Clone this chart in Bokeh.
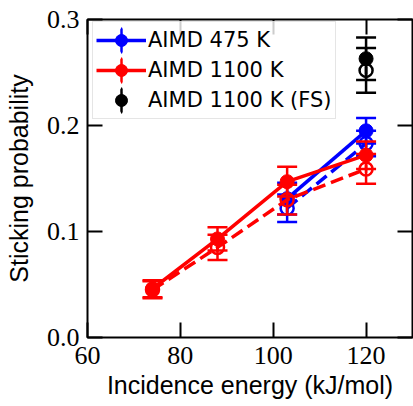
from bokeh.plotting import figure
from bokeh.models import ColumnDataSource, LinearAxis, FixedTicker, Legend, LegendItem
from bokeh.embed import file_html
from bokeh.resources import INLINE

# ---- data ----
x_ticks = [60, 80, 100, 120]
x_tick_labels = ["60", "80", "100", "120"]
y_ticks = [0.0, 0.1, 0.2, 0.3]
y_tick_labels = ["0.0", "0.1", "0.2", "0.3"]

blue_energy = [103, 120]
blue_solid = [0.131, 0.195]
blue_solid_err = [0.015, 0.012]
blue_dashed = [0.122, 0.183]
blue_dashed_err = [0.013, 0.012]

red_energy = [74, 88, 103, 120]
red_solid = [0.046, 0.093, 0.147, 0.172]
red_solid_err = [0.008, 0.011, 0.014, 0.013]
red_dashed = [0.045, 0.085, 0.130, 0.159]
red_dashed_err = [0.008, 0.012, 0.014, 0.014]

black_energy = [120]
black_filled = [0.263]
black_filled_err = [0.020]
black_open = [0.252]
black_open_err = [0.021]

legend_labels = ["AIMD 475 K", "AIMD 1100 K", "AIMD 1100 K (FS)"]

BLUE = "#0000ff"
RED = "#ff0000"
BLACK = "#000000"

p = figure(width=413, height=406, x_range=(60, 130), y_range=(0, 0.3),
           output_backend="svg", toolbar_location=None,
           min_border_left=87, min_border_right=1, min_border_top=19, min_border_bottom=69)
p.grid.visible = False
p.outline_line_color = "black"
p.outline_line_width = 2
p.background_fill_color = "white"
p.border_fill_color = "white"


def series(x, y, err, color, dashed, filled, draw_line=True):
    src = ColumnDataSource(dict(
        x=x, y=y,
        lo=[a - e for a, e in zip(y, err)],
        hi=[a + e for a, e in zip(y, err)],
    ))
    rends = {}
    if draw_line:
        rends["line"] = p.line("x", "y", source=src, line_color=color, line_width=3.5,
                               line_dash="13 6" if dashed else "solid")
    p.segment(x0="x", y0="lo", x1="x", y1="hi", source=src, line_color=color, line_width=2.5)
    p.scatter("x", "lo", source=src, marker="dash", size=20, line_color=color, line_width=2.5)
    p.scatter("x", "hi", source=src, marker="dash", size=20, line_color=color, line_width=2.5)
    # thin upright ellipse hidden under the marker; it gives the legend its error bar
    rends["bar"] = p.ellipse("x", "y", source=src, width=0.02, height=8,
                             width_units="screen", height_units="screen",
                             fill_color=None, line_color=color, line_width=2.5)
    if filled:
        rends["circle"] = p.scatter("x", "y", source=src, marker="circle", size=14,
                                    fill_color=color, line_color=color, line_width=1)
    else:
        rends["circle"] = p.scatter("x", "y", source=src, marker="circle", size=13,
                                    fill_color=None, line_color=color, line_width=2.5)
    return rends


b1 = series(blue_energy, blue_solid, blue_solid_err, BLUE, False, True)
b2 = series(blue_energy, blue_dashed, blue_dashed_err, BLUE, True, False)
r1 = series(red_energy, red_solid, red_solid_err, RED, False, True)
r2 = series(red_energy, red_dashed, red_dashed_err, RED, True, False)
k1 = series(black_energy, black_filled, black_filled_err, BLACK, False, True, draw_line=False)
k2 = series(black_energy, black_open, black_open_err, BLACK, False, False, draw_line=False)

# ---- axes ----
xa = p.below[0]
ya = p.left[0]
xa.ticker = FixedTicker(ticks=x_ticks)
ya.ticker = FixedTicker(ticks=y_ticks)
xa.major_label_overrides = {t: l for t, l in zip(x_ticks, x_tick_labels)}
ya.major_label_overrides = {t: l for t, l in zip(y_ticks, y_tick_labels)}
for ax in (xa, ya):
    ax.axis_line_color = None
    ax.major_tick_in = 15
    ax.major_tick_out = 0
    ax.major_tick_line_width = 2
    ax.major_tick_line_color = "black"
    ax.minor_tick_in = 0
    ax.minor_tick_out = 0
    ax.major_label_text_font = "Liberation Serif"
    ax.major_label_text_font_size = "26px"
    ax.major_label_text_color = "black"
    ax.axis_label_text_font = "Liberation Sans"
    ax.axis_label_text_font_size = "25px"
    ax.axis_label_text_font_style = "normal"
    ax.axis_label_text_color = "black"
xa.axis_label = "Incidence energy (kJ/mol)"
ya.axis_label = "Sticking probability"
xa.major_label_standoff = 9
xa.axis_label_standoff = 4
ya.major_label_standoff = 8
ya.axis_label_standoff = 11

for side, ticks in (("above", x_ticks), ("right", y_ticks)):
    ax = LinearAxis(ticker=FixedTicker(ticks=ticks),
                    major_label_overrides={t: "" for t in ticks},
                    major_label_text_font_size="6px",
                    major_label_standoff=0, axis_line_color=None,
                    major_tick_in=15, major_tick_out=0, major_tick_line_width=2,
                    major_tick_line_color="black", minor_tick_in=0, minor_tick_out=0)
    p.add_layout(ax, side)

# ---- legend ----
items = [
    LegendItem(label=legend_labels[0], renderers=[b1["line"], b1["bar"], b1["circle"]]),
    LegendItem(label=legend_labels[1], renderers=[r1["line"], r1["bar"], r1["circle"]]),
    LegendItem(label=legend_labels[2], renderers=[k1["bar"], k1["circle"]]),
]
legend = Legend(items=items, location=(5, 218), margin=0, padding=3,
                glyph_width=50, glyph_height=30, label_height=30, spacing=0,
                label_standoff=2, label_text_font="DejaVu Sans",
                label_text_font_size="21px", label_text_color="black",
                border_line_color="#cccccc", border_line_width=1.5,
                background_fill_color="white", background_fill_alpha=0.8)
p.add_layout(legend)

open("out.html", "w").write(file_html(p, INLINE))
